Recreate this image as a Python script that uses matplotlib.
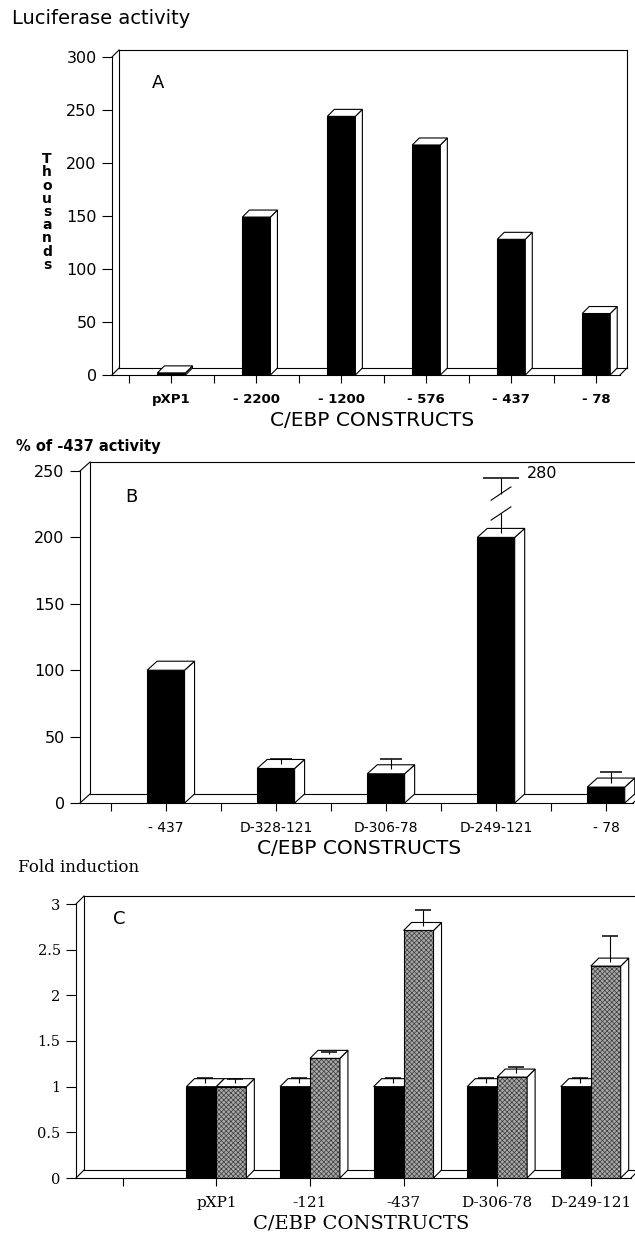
import numpy as np
import matplotlib
matplotlib.use("Agg")
import matplotlib.pyplot as plt
from matplotlib.patches import Polygon

# ---------------- data ----------------
A_constructs = ["pXP1", "- 2200", "- 1200", "- 576", "- 437", "- 78"]
A_values = [2, 149, 244, 217, 128, 58]          # thousands

B_constructs = ["- 437", "D-328-121", "D-306-78", "D-249-121", "- 78"]
B_values = [100, 26, 22, 200, 12]               # % of -437 activity
B_upper = [np.nan, 33, 33, 280, 23]             # top of error bars

C_constructs = ["pXP1", "-121", "-437", "D-306-78", "D-249-121"]
C_black = [1.0, 1.0, 1.0, 1.0, 1.0]
C_black_upper = [1.09, 1.09, 1.09, 1.095, 1.09]
C_hatched = [1.0, 1.31, 2.71, 1.105, 2.32]
C_hatched_upper = [1.08, 1.38, 2.93, 1.22, 2.65]

# ---------------- figure ----------------
W, H = 635, 1235
plt.rcParams["hatch.linewidth"] = 0.5
fig = plt.figure(figsize=(W / 100, H / 100), dpi=100)
SANS = ["DejaVu Sans"]
SERIF = ["DejaVu Serif"]
LW = 0.8


def fpos(x, y):
    return x / W, 1 - y / H


def make_ax(left, right, top, bottom, xlim, ylim):
    ax = fig.add_axes([left / W, 1 - bottom / H, (right - left) / W, (bottom - top) / H])
    ax.set_xlim(*xlim)
    ax.set_ylim(*ylim)
    ax.spines[["top", "right"]].set_visible(False)
    for s in ("left", "bottom"):
        ax.spines[s].set_linewidth(LW)
    ax.set_facecolor("none")
    return ax


def depth(ax, dxp, dyp):
    x0, x1 = ax.get_xlim()
    y0, y1 = ax.get_ylim()
    bb = ax.get_position()
    return dxp * (x1 - x0) / (bb.width * W), dyp * (y1 - y0) / (bb.height * H)


def frame(ax, ddx, ddy):
    x0, x1 = ax.get_xlim()
    y0, y1 = ax.get_ylim()
    kw = dict(color="black", lw=LW, clip_on=False, zorder=1)
    ax.plot([x0 + ddx, x0 + ddx], [ddy, y1 + ddy], **kw)
    ax.plot([x0, x0 + ddx], [y1, y1 + ddy], **kw)
    ax.plot([x0 + ddx, x1 + ddx], [y1 + ddy, y1 + ddy], **kw)
    ax.plot([x1 + ddx, x1 + ddx], [ddy, y1 + ddy], **kw)
    ax.plot([x0 + ddx, x1 + ddx], [ddy, ddy], **kw)
    ax.plot([x0, x0 + ddx], [0, ddy], **kw)
    ax.plot([x1, x1 + ddx], [0, ddy], **kw)


def faces(ax, patches, ddx, ddy):
    for p in patches:
        x0, w, h, z = p.get_x(), p.get_width(), p.get_height(), p.get_zorder()
        top = Polygon([(x0, h), (x0 + w, h), (x0 + w + ddx, h + ddy), (x0 + ddx, h + ddy)],
                      closed=True, fc="white", ec="black", lw=LW, zorder=z, clip_on=False)
        side = Polygon([(x0 + w, 0), (x0 + w + ddx, ddy), (x0 + w + ddx, h + ddy), (x0 + w, h)],
                       closed=True, fc="white", ec="black", lw=LW, zorder=z, clip_on=False)
        ax.add_patch(side)
        ax.add_patch(top)


def errbars(ax, xs, vals, uppers, ddx, ddy, capw, z=50):
    for x, v, u in zip(xs, vals, uppers):
        if np.isnan(u):
            continue
        xe = x + ddx / 2
        ax.vlines(xe, v + ddy / 2, u, color="black", lw=LW, zorder=z, clip_on=False)
        ax.hlines(u, xe - capw / 2, xe + capw / 2, color="black", lw=1.1, zorder=z, clip_on=False)


# ================= Panel A =================
axA = make_ax(112, 620, 57, 375, (-0.7, 5.28), (0, 300))
ddx, ddy = depth(axA, 7, 7)
frame(axA, ddx, ddy)
xa = np.arange(len(A_constructs))
ca = axA.bar(xa, A_values, 0.33, color="black", edgecolor="black", lw=LW)
for i, p in enumerate(ca.patches):
    p.set_zorder(3 + i)
faces(axA, ca.patches, ddx, ddy)
axA.set_yticks(np.arange(0, 301, 50))
axA.set_xticks(xa)
axA.set_xticklabels(A_constructs, fontfamily=SANS, fontsize=9.5, fontweight="bold")
axA.set_xticks(np.arange(-0.5, 5, 1.0), minor=True)
axA.tick_params(axis="y", length=7, width=LW, pad=4, labelsize=11.5)
axA.tick_params(axis="x", which="both", length=6, width=LW, pad=7)
for t in axA.get_yticklabels():
    t.set_fontfamily(SANS)
fig.text(*fpos(12, 18), "Luciferase activity", fontsize=14, family=SANS, ha="left", va="center")
fig.text(*fpos(47, 212), "\n".join("Thousands"), fontsize=10, family=SANS, fontweight="bold",
         ha="center", va="center", linespacing=0.93)
fig.text(*fpos(158, 83), "A", fontsize=13, family=SANS, ha="center", va="center")
fig.text(*fpos(372, 421), "C/EBP CONSTRUCTS", fontsize=14.5, family=SANS, ha="center", va="center")

# ================= Panel B =================
axB = make_ax(80, 633, 471, 803, (-0.78, 4.245), (0, 250))
ddx, ddy = depth(axB, 10, 9)
frame(axB, ddx, ddy)
xb = np.arange(len(B_constructs))
cb = axB.bar(xb, B_values, 0.34, color="black", edgecolor="black", lw=LW)
for i, p in enumerate(cb.patches):
    p.set_zorder(3 + i)
faces(axB, cb.patches, ddx, ddy)
ymaxB = axB.get_ylim()[1]
B_plot_upper = [u if (np.isnan(u) or u <= ymaxB) else np.nan for u in B_upper]
errbars(axB, xb, B_values, B_plot_upper, ddx, ddy, 0.2)
# broken error bar for the off-scale value
for x, v, u in zip(xb, B_values, B_upper):
    if not np.isnan(u) and u > ymaxB:
        xe = x + ddx / 2
        cap = ymaxB - 5
        kw = dict(color="black", lw=LW, zorder=50, clip_on=False)
        axB.vlines(xe, v + ddy / 2, cap - 27, **kw)
        axB.vlines(xe, cap - 12, cap, **kw)
        axB.hlines(cap, xe - 0.16, xe + 0.16, color="black", lw=1.1, zorder=50)
        sx = 0.09
        axB.plot([xe - sx, xe + sx], [cap - 17, cap - 7], **kw)
        axB.plot([xe - sx, xe + sx], [cap - 32, cap - 22], **kw)
        axB.annotate(f"{u:g}", (xe, cap), xytext=(26, 4), textcoords="offset pixels",
                     fontsize=11.5, family=SANS, ha="left", va="center")
axB.set_yticks(np.arange(0, 251, 50))
axB.set_xticks(xb)
axB.set_xticklabels(B_constructs, fontfamily=SANS, fontsize=10)
axB.set_xticks(np.arange(-0.5, 4, 1.0), minor=True)
axB.tick_params(axis="y", length=7, width=LW, pad=4, labelsize=11.5)
axB.tick_params(axis="x", which="both", length=6, width=LW, pad=7)
for t in axB.get_yticklabels():
    t.set_fontfamily(SANS)
fig.text(*fpos(16, 447), "% of -437 activity", fontsize=10.5, family=SANS, fontweight="bold",
         ha="left", va="center")
fig.text(*fpos(131, 497), "B", fontsize=13, family=SANS, ha="center", va="center")
fig.text(*fpos(359, 848), "C/EBP CONSTRUCTS", fontsize=14.5, family=SANS, ha="center", va="center")

# ================= Panel C =================
axC = make_ax(76, 631, 904, 1178, (-0.5, 5.43), (0, 3))
ddx, ddy = depth(axC, 8, 8)
frame(axC, ddx, ddy)
xc = np.arange(1, len(C_constructs) + 1)
bw = 0.32
cbk = axC.bar(xc - bw / 2, C_black, bw, color="black", edgecolor="black", lw=LW)
chf = axC.bar(xc + bw / 2, C_hatched, bw, facecolor="#a8a8a8", edgecolor="#3c3c3c",
              hatch="xxxxxxx", lw=0)
cho = axC.bar(xc + bw / 2, C_hatched, bw, fill=False, edgecolor="black", lw=LW)
for i in range(len(xc)):
    cbk.patches[i].set_zorder(3 + 2 * i)
    chf.patches[i].set_zorder(4 + 2 * i)
    cho.patches[i].set_zorder(4 + 2 * i)
for i in range(len(xc)):
    faces(axC, [cbk.patches[i]], ddx, ddy)
    faces(axC, [cho.patches[i]], ddx, ddy)
errbars(axC, xc - bw / 2, C_black, C_black_upper, ddx, ddy, 0.17)
errbars(axC, xc + bw / 2, C_hatched, C_hatched_upper, ddx, ddy, 0.17)
axC.set_yticks(np.arange(0, 3.01, 0.5))
axC.set_yticklabels(["0", "0.5", "1", "1.5", "2", "2.5", "3"], fontfamily=SERIF, fontsize=10.5)
axC.set_xticks(np.arange(0, len(C_constructs) + 1))
axC.set_xticklabels([""] + C_constructs, fontfamily=SERIF, fontsize=11)
axC.tick_params(axis="y", length=7, width=LW, pad=4)
axC.tick_params(axis="x", length=6, width=LW, pad=7)
fig.text(*fpos(18, 868), "Fold induction", fontsize=12, family=SERIF, ha="left", va="center")
fig.text(*fpos(119, 919), "C", fontsize=13, family=SANS, ha="center", va="center")
fig.text(*fpos(361, 1224), "C/EBP CONSTRUCTS", fontsize=14, family=SERIF, ha="center", va="center")

fig.savefig("out.png", dpi=100, facecolor="white")
